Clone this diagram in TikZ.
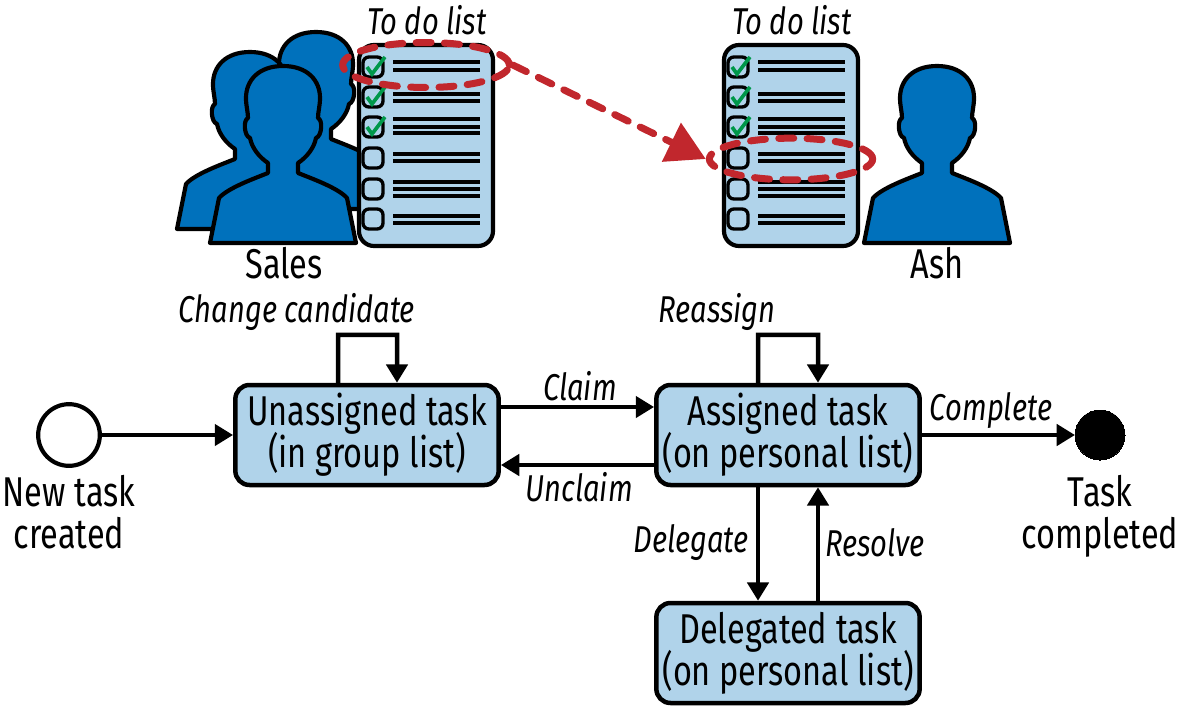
\documentclass[tikz,border=0pt]{standalone}
\usepackage{fontspec}
\setmainfont[FakeStretch=0.78]{Fira Sans}
\usetikzlibrary{arrows.meta,shapes.geometric}
\definecolor{boxblue}{HTML}{B0D3EA}
\definecolor{peopleblue}{HTML}{0071BC}
\definecolor{markred}{HTML}{C1272D}
\definecolor{tickgreen}{HTML}{00984A}
\newcommand{\mytextfont}{\fontsize{25}{25}\selectfont\lineskiplimit=-8pt}
\tikzset{
	taskbox/.style={draw,fill=boxblue,line width=2.7pt,rounded corners=8.5pt,minimum width=158pt,minimum height=60pt,inner sep=0pt,align=center,font=\mytextfont},
	flow/.style={line width=2.7pt,-{Triangle[length=11pt,width=12.6pt]}},
	edgetext/.style={inner sep=0pt,font=\fontsize{22.4}{25}\selectfont\itshape},
	plaintext/.style={inner sep=0pt,align=center,font=\mytextfont},
	selection/.style={draw=markred,ellipse,inner sep=0pt,line width=4.2pt,line cap=round,dash pattern=on 9pt off 8pt},
	person/.pic={
		\draw[fill=peopleblue,line width=2.5pt,line join=round] (0,0)
		.. controls (24,0) and (37,14) .. (37,32)
		.. controls (37,40) and (35,46) .. (35,52)
		.. controls (40,54) and (39,70) .. (33,72)
		.. controls (31,82) and (24,91) .. (15,97)
		-- (15,107)
		.. controls (30,113) and (55,122) .. (64,132)
		-- (73,177) -- (-73,177) -- (-64,132)
		.. controls (-55,122) and (-30,113) .. (-15,107)
		-- (-15,97)
		.. controls (-24,91) and (-31,82) .. (-33,72)
		.. controls (-39,70) and (-40,54) .. (-35,52)
		.. controls (-35,46) and (-37,40) .. (-37,32)
		.. controls (-37,14) and (-24,0) .. (0,0) -- cycle;
	},
	todolist/.pic={
		%Sheet, the origin is the top middle
		\draw[fill=boxblue,line width=2.5pt,rounded corners=9pt] (-67,2) rectangle (67,203);
		%Check boxes
		\foreach \y in {24,54,84,115,146,176} {
			\draw[line width=2pt,rounded corners=3.5pt] (-63,\y-10) rectangle (-43,\y+10);
		}
		%Ticks in the first three
		\foreach \y in {24,54,84} {
			\draw[tickgreen,line width=2.2pt] (-59,\y) -- (-54,\y+7) -- (-41,\y-10);
		}
		%Text lines next to the boxes
		\foreach \y in {19,26.5,51,58,76,84,90,111,118,139,146,153,173,180} {
			\draw[line width=2.4pt] (-33,\y) -- (54,\y);
		}
	}
}
\begin{document}
\begin{tikzpicture}[x=0.6pt,y=-0.6pt]
	\useasboundingbox (0,0) rectangle (1181,707);
	%People on the left
	\pic at (316,32) {person};
	\pic at (250,52) {person};
	\pic at (283,66) {person};
	\pic at (937,66) {person};
	%Both lists
	\pic at (426,43) {todolist};
	\pic at (791,43) {todolist};
	\node [edgetext] (listleft) at (427,20) {To do list};
	\node [edgetext] (listright) at (792,20) {To do list};
	\node [plaintext] (sales) at (284,263) {Sales};
	\node [plaintext] (ash) at (937,263) {Ash};
	%Marked rows and the move between them
	\node [selection,minimum width=100pt,minimum height=27pt] (rowleft) at (426,65) {};
	\node [selection,minimum width=98pt,minimum height=25pt] (rowright) at (791,159) {};
	\draw[markred,line width=4.2pt,line cap=round,dash pattern=on 9pt off 8pt,-{Triangle[length=23pt,width=25pt]}] (rowleft.east) -- (rowright.west);
	%Start and end
	\node [draw,circle,fill=white,line width=2.5pt,minimum size=37pt,inner sep=0pt] (start) at (69,435) {};
	\node [draw,circle,fill=black,line width=0pt,minimum size=30pt,inner sep=0pt] (done) at (1100,435) {};
	\node [plaintext] (starttext) at (69,512) {New task\\created};
	\node [plaintext] (donetext) at (1100,516) {Task\\completed};
	%States
	\node [taskbox] (unassigned) at (367,435) {Unassigned task\\(in group list)};
	\node [taskbox] (assigned) at (788,435) {Assigned task\\(on personal list)};
	\node [taskbox] (delegated) at (788,653) {Delegated task\\(on personal list)};
	%Transitions
	\draw[flow] (start) -- (unassigned);
	\draw[flow] ([yshift=16.8pt]unassigned.east) -- ([yshift=16.8pt]assigned.west);
	\draw[flow] ([yshift=-18pt]assigned.west) -- ([yshift=-18pt]unassigned.east);
	\draw[flow] (assigned) -- (done);
	\draw[flow] ([xshift=-18pt]assigned.south) -- ([xshift=-18pt]delegated.north);
	\draw[flow] ([xshift=18pt]delegated.north) -- ([xshift=18pt]assigned.south);
	%Self loops on top of the boxes
	\draw[flow] ([xshift=-17.4pt]unassigned.north) -- ++(0,-48) -- ++(59,0) -- ([xshift=18pt]unassigned.north);
	\draw[flow] ([xshift=-18pt]assigned.north) -- ++(0,-48) -- ++(60,0) -- ([xshift=18pt]assigned.north);
	%Transition names
	\node [edgetext] (changetext) at (297,312) {Change candidate};
	\node [edgetext] (claimtext) at (580,386) {Claim};
	\node [edgetext] (unclaimtext) at (579,487) {Unclaim};
	\node [edgetext] (reassigntext) at (717,312) {Reassign};
	\node [edgetext] (completetext) at (991,411) {Complete};
	\node [edgetext] (delegatetext) at (691,543) {Delegate};
	\node [edgetext] (resolvetext) at (875,543) {Resolve};
\end{tikzpicture}
\end{document}
